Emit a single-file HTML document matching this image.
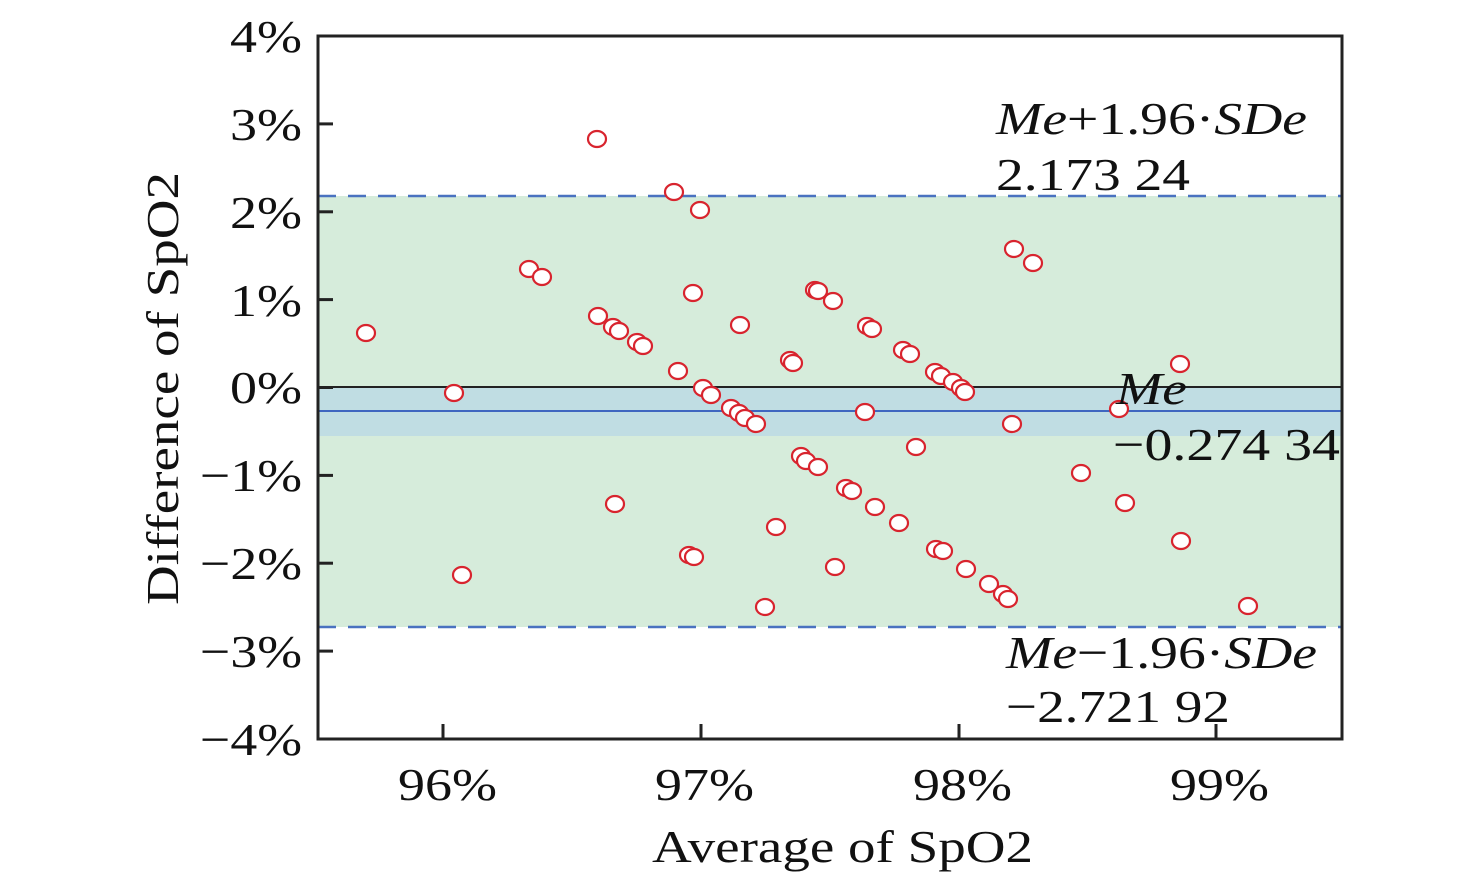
<!DOCTYPE html>
<html><head><style>body{margin:0;background:#fff}svg{display:block}</style></head><body>
<svg width="1476" height="886" viewBox="0 0 1476 886" xmlns="http://www.w3.org/2000/svg" font-family="'Liberation Serif',serif">
<rect x="318" y="196" width="1024" height="431" fill="#d6ecdb"/>
<rect x="318" y="387" width="1024" height="49" fill="#c0dde3"/>
<line x1="318" y1="196" x2="1342" y2="196" stroke="#4a72c0" stroke-width="2.5" stroke-dasharray="18,12"/>
<line x1="318" y1="627" x2="1342" y2="627" stroke="#4a72c0" stroke-width="2.5" stroke-dasharray="18,12"/>
<line x1="318" y1="411" x2="1342" y2="411" stroke="#3f66c0" stroke-width="2"/>
<line x1="318" y1="387" x2="1342" y2="387" stroke="#222" stroke-width="2"/>
<g fill="#fff" stroke="#d8242e" stroke-width="2.2">
<ellipse cx="366" cy="333" rx="9" ry="8"/><ellipse cx="454" cy="393" rx="9" ry="8"/><ellipse cx="462" cy="575" rx="9" ry="8"/><ellipse cx="529" cy="269" rx="9" ry="8"/><ellipse cx="542" cy="277" rx="9" ry="8"/><ellipse cx="597" cy="139" rx="9" ry="8"/><ellipse cx="598" cy="316" rx="9" ry="8"/><ellipse cx="613" cy="327" rx="9" ry="8"/><ellipse cx="619" cy="331" rx="9" ry="8"/><ellipse cx="637" cy="342" rx="9" ry="8"/><ellipse cx="643" cy="346" rx="9" ry="8"/><ellipse cx="615" cy="504" rx="9" ry="8"/><ellipse cx="674" cy="192" rx="9" ry="8"/><ellipse cx="678" cy="371" rx="9" ry="8"/><ellipse cx="689" cy="555" rx="9" ry="8"/><ellipse cx="694" cy="557" rx="9" ry="8"/><ellipse cx="693" cy="293" rx="9" ry="8"/><ellipse cx="700" cy="210" rx="9" ry="8"/><ellipse cx="703" cy="388" rx="9" ry="8"/><ellipse cx="711" cy="395" rx="9" ry="8"/><ellipse cx="731" cy="408" rx="9" ry="8"/><ellipse cx="739" cy="413" rx="9" ry="8"/><ellipse cx="745" cy="418" rx="9" ry="8"/><ellipse cx="756" cy="424" rx="9" ry="8"/><ellipse cx="740" cy="325" rx="9" ry="8"/><ellipse cx="765" cy="607" rx="9" ry="8"/><ellipse cx="776" cy="527" rx="9" ry="8"/><ellipse cx="790" cy="360" rx="9" ry="8"/><ellipse cx="793" cy="363" rx="9" ry="8"/><ellipse cx="801" cy="456" rx="9" ry="8"/><ellipse cx="806" cy="461" rx="9" ry="8"/><ellipse cx="818" cy="467" rx="9" ry="8"/><ellipse cx="815" cy="290" rx="9" ry="8"/><ellipse cx="818" cy="291" rx="9" ry="8"/><ellipse cx="833" cy="301" rx="9" ry="8"/><ellipse cx="835" cy="567" rx="9" ry="8"/><ellipse cx="846" cy="488" rx="9" ry="8"/><ellipse cx="852" cy="491" rx="9" ry="8"/><ellipse cx="865" cy="412" rx="9" ry="8"/><ellipse cx="867" cy="326" rx="9" ry="8"/><ellipse cx="872" cy="329" rx="9" ry="8"/><ellipse cx="875" cy="507" rx="9" ry="8"/><ellipse cx="899" cy="523" rx="9" ry="8"/><ellipse cx="903" cy="350" rx="9" ry="8"/><ellipse cx="910" cy="354" rx="9" ry="8"/><ellipse cx="916" cy="447" rx="9" ry="8"/><ellipse cx="935" cy="372" rx="9" ry="8"/><ellipse cx="941" cy="376" rx="9" ry="8"/><ellipse cx="936" cy="549" rx="9" ry="8"/><ellipse cx="943" cy="551" rx="9" ry="8"/><ellipse cx="953" cy="382" rx="9" ry="8"/><ellipse cx="961" cy="388" rx="9" ry="8"/><ellipse cx="965" cy="392" rx="9" ry="8"/><ellipse cx="966" cy="569" rx="9" ry="8"/><ellipse cx="989" cy="584" rx="9" ry="8"/><ellipse cx="1003" cy="594" rx="9" ry="8"/><ellipse cx="1008" cy="599" rx="9" ry="8"/><ellipse cx="1012" cy="424" rx="9" ry="8"/><ellipse cx="1014" cy="249" rx="9" ry="8"/><ellipse cx="1033" cy="263" rx="9" ry="8"/><ellipse cx="1081" cy="473" rx="9" ry="8"/><ellipse cx="1119" cy="409" rx="9" ry="8"/><ellipse cx="1125" cy="503" rx="9" ry="8"/><ellipse cx="1180" cy="364" rx="9" ry="8"/><ellipse cx="1181" cy="541" rx="9" ry="8"/><ellipse cx="1248" cy="606" rx="9" ry="8"/>
</g>
<rect x="318" y="36" width="1024" height="703" fill="none" stroke="#222" stroke-width="3"/>
<g stroke="#222" stroke-width="3">
<line x1="318" y1="123.9" x2="333" y2="123.9"/><line x1="318" y1="211.8" x2="333" y2="211.8"/><line x1="318" y1="299.6" x2="333" y2="299.6"/><line x1="318" y1="387.5" x2="333" y2="387.5"/><line x1="318" y1="475.4" x2="333" y2="475.4"/><line x1="318" y1="563.2" x2="333" y2="563.2"/><line x1="318" y1="651.1" x2="333" y2="651.1"/>
<line x1="443" y1="739" x2="443" y2="724"/><line x1="701" y1="739" x2="701" y2="724"/><line x1="959" y1="739" x2="959" y2="724"/><line x1="1216" y1="739" x2="1216" y2="724"/>
</g>
<g font-size="46" fill="#111" lengthAdjust="spacingAndGlyphs">
<text x="230" y="52" textLength="72" lengthAdjust="spacingAndGlyphs">4%</text>
<text x="230" y="140" textLength="72" lengthAdjust="spacingAndGlyphs">3%</text>
<text x="230" y="228" textLength="72" lengthAdjust="spacingAndGlyphs">2%</text>
<text x="230" y="316" textLength="72" lengthAdjust="spacingAndGlyphs">1%</text>
<text x="230" y="403" textLength="72" lengthAdjust="spacingAndGlyphs">0%</text>
<text x="200" y="491" textLength="102" lengthAdjust="spacingAndGlyphs">−1%</text>
<text x="200" y="579" textLength="102" lengthAdjust="spacingAndGlyphs">−2%</text>
<text x="200" y="667" textLength="102" lengthAdjust="spacingAndGlyphs">−3%</text>
<text x="200" y="755" textLength="102" lengthAdjust="spacingAndGlyphs">−4%</text>
<text x="398" y="800" textLength="99" lengthAdjust="spacingAndGlyphs">96%</text>
<text x="655" y="800" textLength="99" lengthAdjust="spacingAndGlyphs">97%</text>
<text x="913" y="800" textLength="99" lengthAdjust="spacingAndGlyphs">98%</text>
<text x="1170" y="800" textLength="99" lengthAdjust="spacingAndGlyphs">99%</text>
<text x="652" y="862" textLength="381" lengthAdjust="spacingAndGlyphs">Average of SpO2</text>
<text transform="translate(178,605) rotate(-90)" textLength="433" lengthAdjust="spacingAndGlyphs">Difference of SpO2</text>
<text x="996" y="134" textLength="311" lengthAdjust="spacingAndGlyphs"><tspan font-style="italic">Me</tspan>+1.96·<tspan font-style="italic">SDe</tspan></text>
<text x="996" y="190" textLength="194" lengthAdjust="spacingAndGlyphs">2.173 24</text>
<text x="1116" y="404" font-style="italic" textLength="71" lengthAdjust="spacingAndGlyphs">Me</text>
<text x="1113" y="460" textLength="227" lengthAdjust="spacingAndGlyphs">−0.274 34</text>
<text x="1006" y="668" textLength="311" lengthAdjust="spacingAndGlyphs"><tspan font-style="italic">Me</tspan>−1.96·<tspan font-style="italic">SDe</tspan></text>
<text x="1006" y="722" textLength="224" lengthAdjust="spacingAndGlyphs">−2.721 92</text>
</g>
</svg>
</body></html>
